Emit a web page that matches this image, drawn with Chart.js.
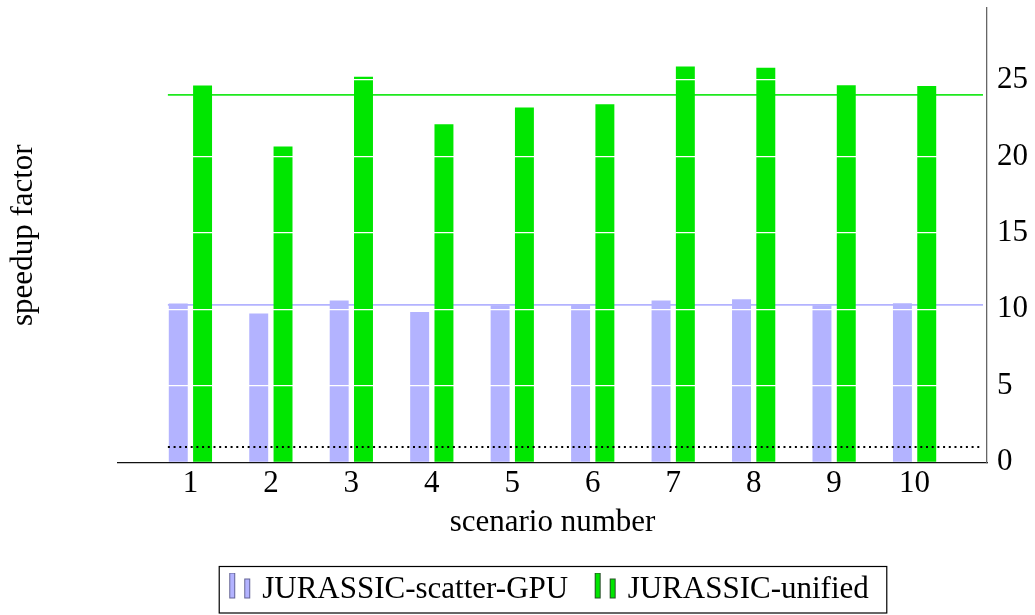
<!DOCTYPE html>
<html>
<head>
<meta charset="utf-8">
<script src="https://cdn.jsdelivr.net/npm/chart.js@4.4.1/dist/chart.umd.min.js"></script>
<style>
  html, body { margin: 0; padding: 0; background: #fff; }
  canvas { display: block; }
</style>
</head>
<body>
<canvas id="chart" width="1035" height="615"></canvas>
<script>
// values
const scenarios = [1, 2, 3, 4, 5, 6, 7, 8, 9, 10];
const scatterGpu = [10.38, 9.72, 10.57, 9.83, 10.27, 10.31, 10.57, 10.66, 10.27, 10.40];
const unified = [24.63, 20.65, 25.2, 22.1, 23.2, 23.4, 25.87, 25.8, 24.65, 24.6];
const scatterGpuMean = 10.29;
const unifiedMean = 24.02;
const refSpeedup = 1;
const refLineX = [0.72, 10.85];
const yTicks = [0, 5, 10, 15, 20, 25];

const serif = "'Liberation Serif', 'Times New Roman', serif";
const blue = 'rgb(179,179,255)';
const green = 'rgb(0,230,0)';

// two little bars, like the pgfplots ybar legend
function legendIcon(fill, stroke) {
  const c = document.createElement('canvas');
  c.width = 24;
  c.height = 34;
  const g = c.getContext('2d');
  g.fillStyle = fill;
  g.strokeStyle = stroke;
  g.lineWidth = 1;
  g.fillRect(1.5, 0.5, 5, 25);
  g.strokeRect(1.5, 0.5, 5, 25);
  g.fillRect(16.5, 6.5, 5, 19);
  g.strokeRect(16.5, 6.5, 5, 19);
  return c;
}

const legendFrame = {
  id: 'legendFrame',
  afterDraw(chart) {
    const boxes = chart.legend.legendHitBoxes;
    if (!boxes || !boxes.length) return;
    const first = boxes[0], last = boxes[boxes.length - 1];
    const cy = first.top + first.height / 2;
    const ctx = chart.ctx;
    ctx.save();
    ctx.strokeStyle = '#000';
    ctx.lineWidth = 1.2;
    ctx.strokeRect(first.left - 14.5, cy - 23, last.left + last.width - first.left + 32.5, 46.5);
    ctx.restore();
  }
};

const pts = ys => scenarios.map((s, i) => ({x: s, y: ys[i]}));
const flat = v => refLineX.map(x => ({x: x, y: v}));

new Chart(document.getElementById('chart'), {
  type: 'bar',
  data: {
    datasets: [
      {
        label: 'JURASSIC-scatter-GPU',
        data: pts(scatterGpu),
        backgroundColor: blue,
        pointStyle: legendIcon(blue, 'rgb(100,100,150)'),
        categoryPercentage: 0.604,
        barPercentage: 0.78,
        order: 2
      },
      {
        label: 'JURASSIC-unified',
        data: pts(unified),
        backgroundColor: green,
        pointStyle: legendIcon(green, 'rgb(40,80,40)'),
        categoryPercentage: 0.604,
        barPercentage: 0.78,
        order: 2
      },
      {
        type: 'line',
        label: 'mean scatter-GPU',
        data: flat(scatterGpuMean),
        borderColor: blue,
        borderWidth: 1.6,
        pointRadius: 0,
        order: 3
      },
      {
        type: 'line',
        label: 'mean unified',
        data: flat(unifiedMean),
        borderColor: 'rgb(30,232,30)',
        borderWidth: 1.6,
        pointRadius: 0,
        order: 3
      },
      {
        type: 'line',
        label: 'reference',
        data: flat(refSpeedup),
        borderColor: '#000',
        borderWidth: 2,
        borderDash: [2, 3.7],
        pointRadius: 0,
        order: 1
      }
    ]
  },
  options: {
    responsive: false,
    animation: false,
    layout: { padding: { top: 8, left: 67.5, right: 0, bottom: 0 } },
    plugins: {
      tooltip: { enabled: false },
      legend: {
        position: 'bottom',
        maxHeight: 72,
        labels: {
          filter: item => item.datasetIndex < 2,
          usePointStyle: true,
          pointStyleWidth: 13,
          padding: 31,
          color: '#000',
          font: { family: serif, size: 31 }
        }
      }
    },
    scales: {
      x: {
        type: 'linear',
        min: 0.1,
        max: 10.9,
        offset: false,
        afterBuildTicks: s => { s.ticks = scenarios.map(v => ({value: v})); },
        afterFit: s => { s.height = 80.7; s.paddingLeft = 0; s.paddingRight = 0; },
        grid: { display: false, drawTicks: false },
        border: { color: '#111', width: 1.3 },
        ticks: { padding: 3, maxRotation: 0, autoSkip: false, color: '#000', font: { family: serif, size: 31 } },
        title: { display: true, text: 'scenario number', color: '#000', padding: { top: 0, bottom: 1.5 }, font: { family: serif, size: 31 } }
      },
      y: {
        position: 'right',
        min: 0,
        max: 29.7,
        afterBuildTicks: s => { s.ticks = yTicks.map(v => ({value: v})); },
        afterFit: s => { s.width = 48; s.paddingTop = 0; s.paddingBottom = 0; },
        // white grid lines sit on top of the bars, like in the original
        grid: {
          z: 1,
          drawTicks: false,
          lineWidth: 1.3,
          color: c => c.tick && c.tick.value === 0 ? 'rgba(0,0,0,0)' : '#fff'
        },
        border: { z: 1, color: '#666', width: 1.3 },
        ticks: { padding: 10, color: '#000', font: { family: serif, size: 31 } }
      },
      yl: {
        position: 'left',
        min: 0,
        max: 29.7,
        afterFit: s => { s.width = 50.5; s.paddingTop = 0; s.paddingBottom = 0; },
        grid: { display: false, drawTicks: false },
        border: { display: false },
        ticks: { display: false },
        title: { display: true, text: 'speedup factor', color: '#000', padding: { top: -62.1, bottom: 0 }, font: { family: serif, size: 31 } }
      }
    }
  },
  plugins: [legendFrame]
});
</script>
</body>
</html>
